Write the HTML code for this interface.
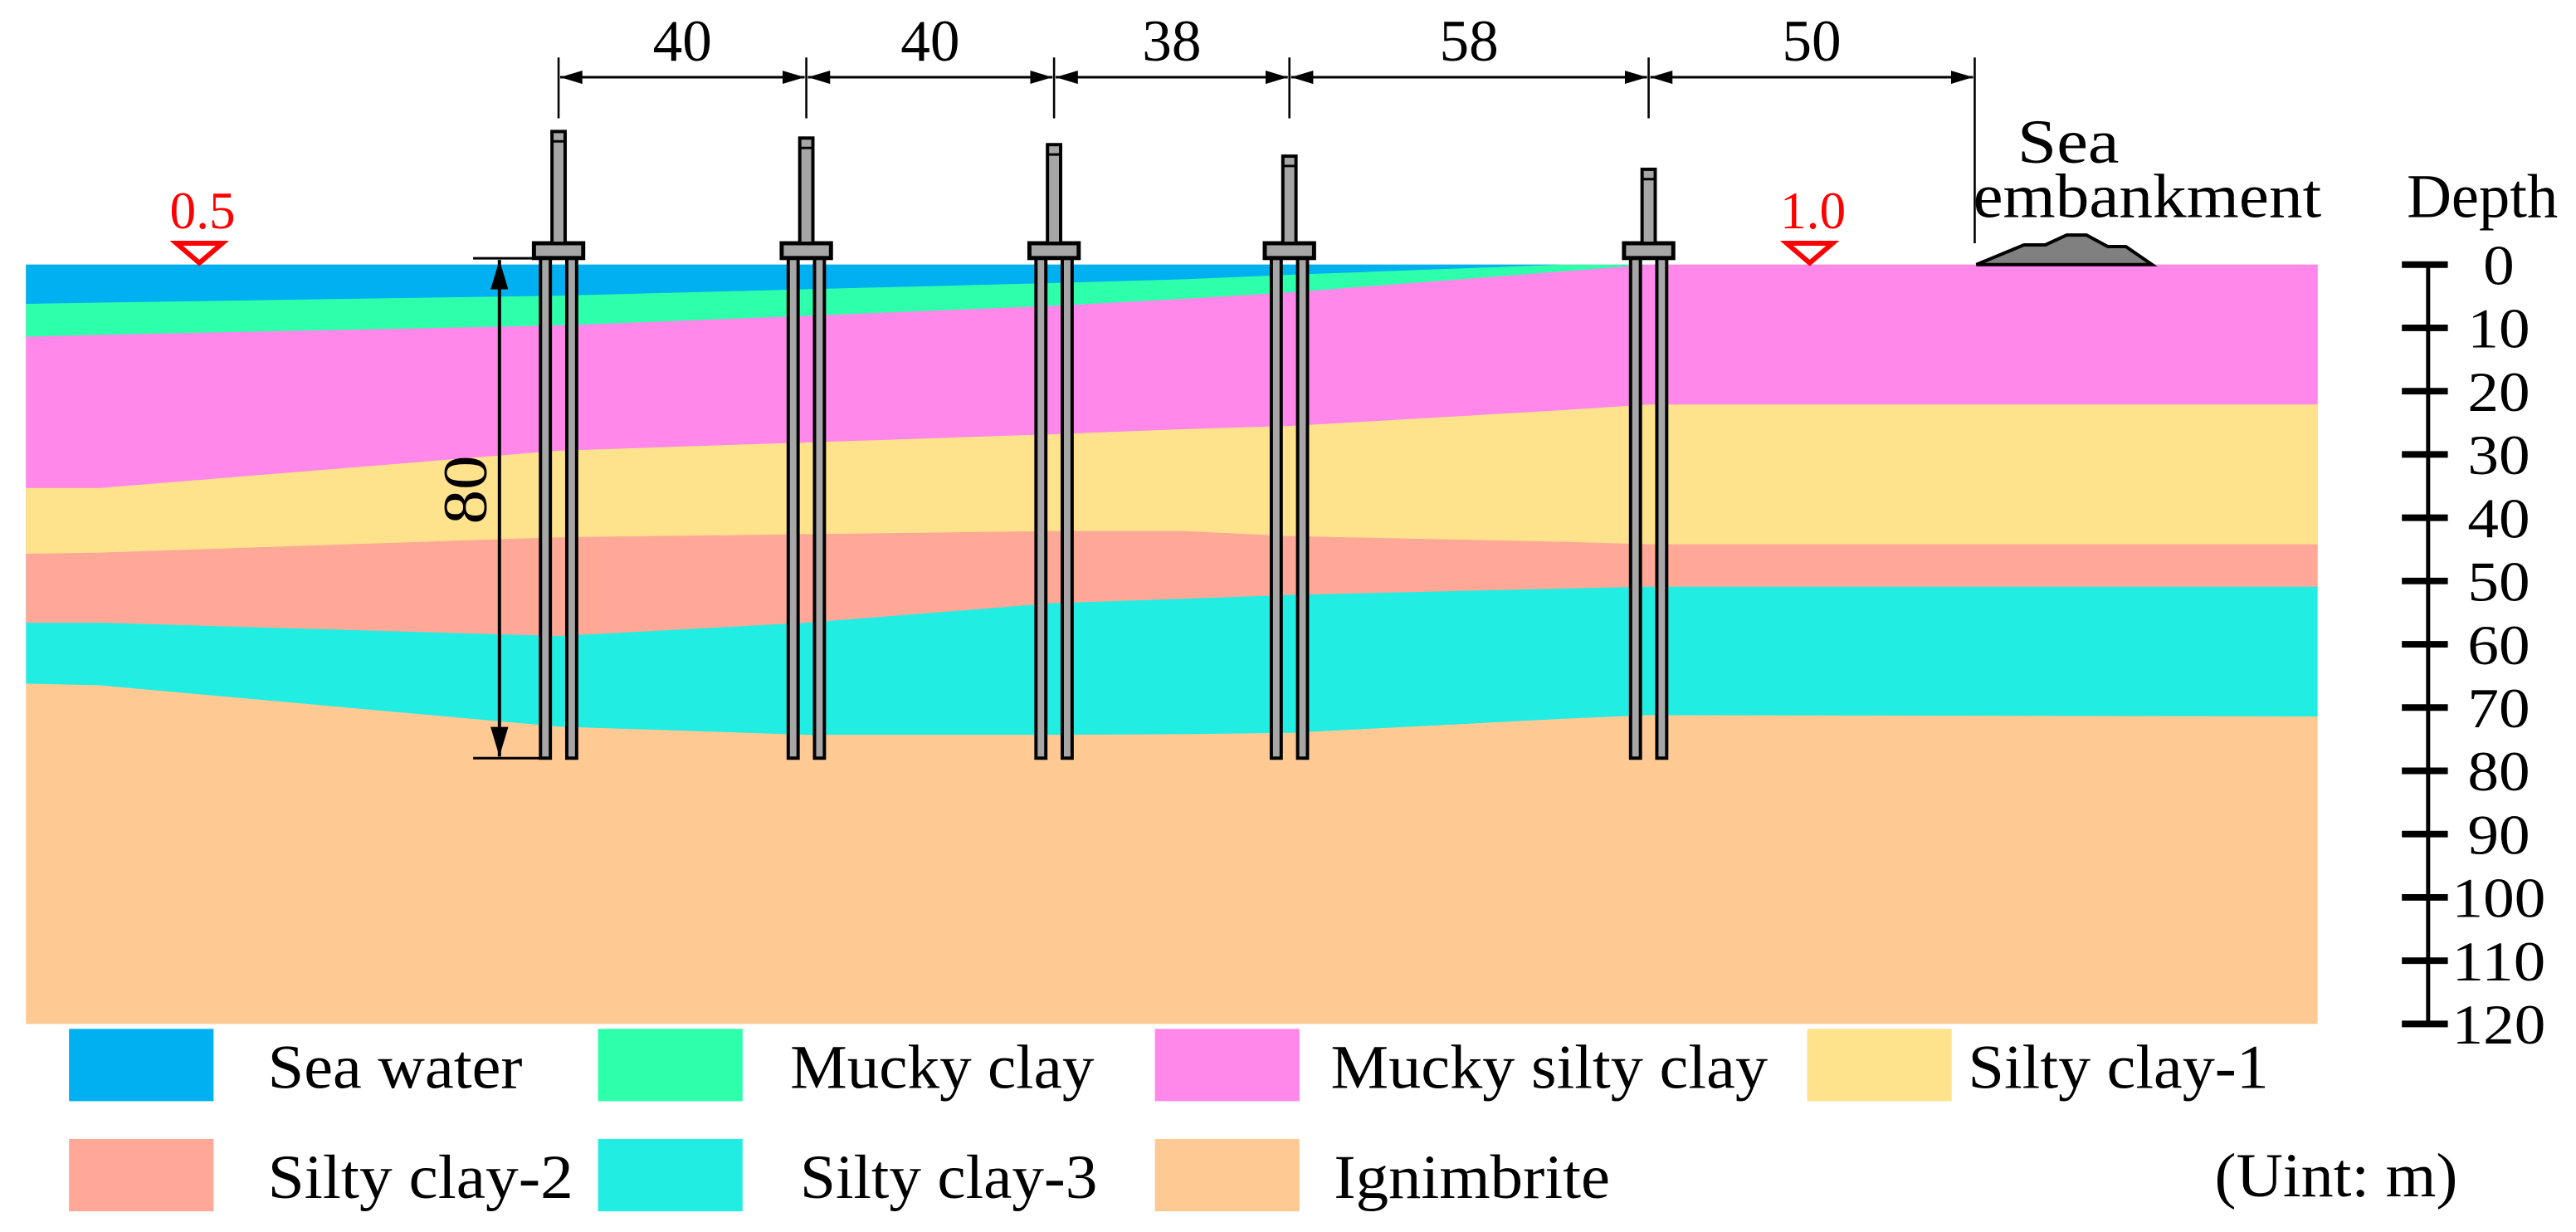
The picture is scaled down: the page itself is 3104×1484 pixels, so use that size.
<!DOCTYPE html>
<html><head><meta charset="utf-8"><style>
html,body{margin:0;padding:0;background:#fff;}
svg{display:block;}
text{font-family:"Liberation Serif","Times New Roman",serif;}
</style></head><body>
<svg id="chart" width="3104" height="1484" viewBox="0 0 1568 749.6" preserveAspectRatio="none" xmlns="http://www.w3.org/2000/svg" font-family="Liberation Serif, serif">
<g id="layers"></g>
<g id="piles"></g>
<g id="dims"></g>
<g id="axis"></g>
<g id="legend"></g>
</svg>
<script>
// horizontal positions along section (m, pile 1 = 0)
const sectionX = [-86, -74, 0, 40, 80, 101, 118, 162, 176, 284];
// bottom depth (m) of each layer at sectionX
const seaWaterBottom = [6.2, 6.0, 4.9, 3.9, 2.9, 2.3, 1.6, 0, 0, 0];
const muckyClayBottom = [11.4, 11.1, 9.6, 8.1, 6.5, 5.4, 4.4, 1.1, 0, 0];
const muckySiltyClayBottom = [35.3, 35.3, 29.4, 28.1, 26.8, 26.0, 25.5, 23.0, 22.1, 22.1];
const siltyClay1Bottom = [45.7, 45.5, 43.1, 42.6, 42.1, 42.1, 42.9, 43.8, 44.2, 44.2];
const siltyClay2Bottom = [56.6, 56.6, 58.7, 56.6, 53.5, 52.8, 52.2, 51.2, 50.9, 50.9];
const siltyClay3Bottom = [66.2, 66.5, 73.0, 74.3, 74.3, 74.2, 74.0, 71.8, 71.2, 71.4];
const ignimbriteBottom = [120, 120, 120, 120, 120, 120, 120, 120, 120, 120];
const pileSpacings = [40, 40, 38, 58, 50];
const pileLength = [78, 78, 78, 78, 78];
const depthTicks = [0,10,20,30,40,50,60,70,80,90,100,110,120];
const waterLevels = [0.5, 1.0];
const waterLevelX = [-58, 202];
const layerNames = ["Sea water","Mucky clay","Mucky silty clay","Silty clay-1","Silty clay-2","Silty clay-3","Ignimbrite"];

const NS = "http://www.w3.org/2000/svg";
const xS = m => 340 + m * 3.77;
const yS = d => 161 + d * 3.85;
const FF = '"Liberation Serif", serif';
function mk(tag, attrs, parent, text){
  const e = document.createElementNS(NS, tag);
  for (const k in attrs) e.setAttribute(k, attrs[k]);
  if (tag === 'text') { e.setAttribute('font-family', FF); e.style.fontFamily = FF; }
  if (text !== undefined) e.textContent = text;
  parent.appendChild(e); return e;
}
const colors = ["#00B0F0","#2EFFAA","#FF88EA","#FFE38C","#FFA898","#22EDE2","#FFC994"];
const bottoms = [seaWaterBottom, muckyClayBottom, muckySiltyClayBottom, siltyClay1Bottom, siltyClay2Bottom, siltyClay3Bottom, ignimbriteBottom];
const layersG = document.getElementById('layers');
for (let i = bottoms.length - 1; i >= 0; i--) {
  const b = bottoms[i];
  let pts = [];
  for (let j = 0; j < sectionX.length; j++) pts.push(xS(sectionX[j]).toFixed(1) + "," + yS(b[j]).toFixed(1));
  pts.push(xS(sectionX[sectionX.length-1]).toFixed(1) + "," + yS(0));
  pts.push(xS(sectionX[0]).toFixed(1) + "," + yS(0));
  const p = mk('polygon', {points: pts.join(' '), fill: colors[i]}, layersG);
  
  
}

// piles
const pilesG = document.getElementById('piles');
const pileTops = [80, 84, 88, 95, 103];
let pileX = [0];
pileSpacings.forEach(s => pileX.push(pileX[pileX.length-1] + s));
for (let i = 0; i < 5; i++) {
  const cx = xS(pileX[i]);
  const g = mk('g', {}, pilesG);
  
  
  const bot = yS(pileLength[i]);
  mk('rect', {x: cx-11, y: 157, width: 6, height: bot-157, fill: '#A6A6A6', stroke: '#000', 'stroke-width': 2}, g);
  mk('rect', {x: cx+5, y: 157, width: 6, height: bot-157, fill: '#A6A6A6', stroke: '#000', 'stroke-width': 2}, g);
  mk('rect', {x: cx-15, y: 148, width: 30, height: 9, fill: '#A6A6A6', stroke: '#000', 'stroke-width': 2.5}, g);
  mk('rect', {x: cx-4, y: pileTops[i], width: 8, height: 148-pileTops[i], fill: '#A6A6A6', stroke: '#000', 'stroke-width': 2}, g);
  mk('line', {x1: cx-4, x2: cx+4, y1: pileTops[i]+6, y2: pileTops[i]+6, stroke: '#000', 'stroke-width': 1.5}, g);
}

// dimensions
const dimsG = document.getElementById('dims');
mk('defs', {}, dimsG).innerHTML = '<marker id="ar" viewBox="0 0 10 10" refX="10" refY="5" markerWidth="9" markerHeight="9" orient="auto-start-reverse"><path d="M0,2 L10,5 L0,8 z" fill="#000"/></marker>';
const tickXs = pileX.map(xS);
tickXs[tickXs.length-1] = 1202;
tickXs.forEach((tx, i) => {
  const l = mk('line', {x1: tx, x2: tx, y1: 35, y2: i === 5 ? 148 : 72, stroke: '#000', 'stroke-width': 1.3}, dimsG);
  
  
});
for (let i = 0; i < 5; i++) {
  const a = tickXs[i], b = tickXs[i+1];
  mk('line', {x1: a+1, x2: b-1, y1: 47, y2: 47, stroke: '#000', 'stroke-width': 1.5, 'marker-start': 'url(#ar)', 'marker-end': 'url(#ar)'}, dimsG);
  const t = mk('text', {x: (a+b)/2, y: 37, 'text-anchor': 'middle', 'font-size': 36, textLength: 36, lengthAdjust: 'spacingAndGlyphs'}, dimsG, String(pileSpacings[i]));
  
  
}
// 80 m pile length dimension
mk('line', {x1: 288, x2: 330, y1: yS(-1), y2: yS(-1), stroke: '#000', 'stroke-width': 1.5}, dimsG);
mk('line', {x1: 288, x2: 330, y1: yS(pileLength[0]), y2: yS(pileLength[0]), stroke: '#000', 'stroke-width': 1.5}, dimsG);
mk('line', {x1: 304, x2: 304, y1: yS(-1)+1, y2: yS(pileLength[0])-1, stroke: '#000', 'stroke-width': 2, 'marker-start': 'url(#ar)', 'marker-end': 'url(#ar)'}, dimsG);
const l80 = mk('text', {x: 0, y: 0, transform: 'translate(296,298) rotate(-90)', 'text-anchor': 'middle', 'font-size': 38, textLength: 42, lengthAdjust: 'spacingAndGlyphs'}, dimsG, '80');



// water levels
waterLevels.forEach((w, i) => {
  const cx = xS(waterLevelX[i]);
  const g = mk('g', {}, dimsG);
  
  
  mk('polygon', {points: `${cx-14},148 ${cx+14},148 ${cx},160`, fill: 'none', stroke: '#FF0000', 'stroke-width': 3}, g);
  mk('text', {x: cx+2, y: 139, 'text-anchor': 'middle', 'font-size': 32, fill: '#FF0000', textLength: 40, lengthAdjust: 'spacingAndGlyphs'}, g, w.toFixed(1));
});

// sea embankment
const emb = mk('polygon', {points: '1203,161 1232,149 1245,149 1258,143 1270,143 1283,150 1294,150 1310,161', fill: '#808080', stroke: '#000', 'stroke-width': 2}, dimsG);


mk('text', {x: 1259, y: 99, 'text-anchor': 'middle', 'font-size': 38, textLength: 62, lengthAdjust: 'spacingAndGlyphs'}, dimsG, 'Sea');
mk('text', {x: 1307, y: 132, 'text-anchor': 'middle', 'font-size': 38, textLength: 212, lengthAdjust: 'spacingAndGlyphs'}, dimsG, 'embankment');

// depth axis
const axisG = document.getElementById('axis');
mk('text', {x: 1511, y: 132, 'text-anchor': 'middle', 'font-size': 38, textLength: 92, lengthAdjust: 'spacingAndGlyphs'}, axisG, 'Depth');
mk('line', {x1: 1478, x2: 1478, y1: yS(0), y2: yS(120), stroke: '#000', 'stroke-width': 2.5}, axisG);
depthTicks.forEach(d => {
  mk('line', {x1: 1462, x2: 1490, y1: yS(d), y2: yS(d), stroke: '#000', 'stroke-width': 4}, axisG);
  const s = String(d);
  const t = mk('text', {x: 1521, y: yS(d)+12, 'text-anchor': 'middle', 'font-size': 34, textLength: s.length * 19, lengthAdjust: 'spacingAndGlyphs'}, axisG, s);
  
  
});

// legend
const legG = document.getElementById('legend');
const legPos = [[42,163,626],[364,481,626],[703,810,626],[1100,1198,626],[42,163,693],[364,487,693],[703,812,693]];
const legW = [155,185,266,183,186,181,168];
layerNames.forEach((n, i) => {
  const [sx, tx, y] = legPos[i];
  const g = mk('g', {}, legG);
  
  
  mk('rect', {x: sx, y: y, width: 88, height: 44, fill: colors[i]}, g);
  mk('text', {x: tx, y: y+36, 'font-size': 38, textLength: legW[i], lengthAdjust: 'spacingAndGlyphs'}, g, n);
});
const unit = mk('text', {x: 1348, y: 728, 'font-size': 38, textLength: 148, lengthAdjust: 'spacingAndGlyphs'}, legG, '(Uint: m)');


</script>
</body></html>
